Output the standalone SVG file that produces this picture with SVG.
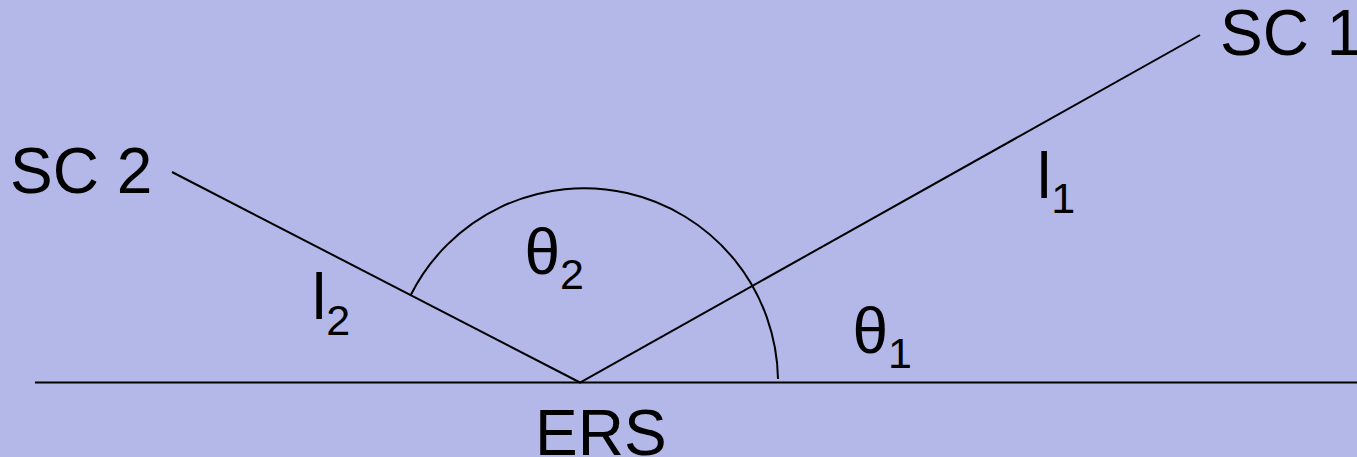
<svg xmlns="http://www.w3.org/2000/svg" width="1357" height="457" viewBox="0 0 1357 457">
<style>
.ln{stroke:#000;stroke-width:2;fill:none}
.t{font-family:"Liberation Sans",Arial,sans-serif;font-size:64px;fill:#000}
.s{font-size:43px}
</style>
<rect width="1357" height="457" fill="#b4b8e9"/>
<g id="connectors">
<line class="ln" x1="35" y1="382.5" x2="1357" y2="382.5"/>
<polyline class="ln" points="172,172 580,382.5 1200,35"/>
<path class="ln" d="M 410.5 295.5 A 194 194 0 0 1 778 379"/>
</g>
<g id="sc1"><text class="t" x="1220" y="55">SC 1</text></g>
<g id="sc2"><text class="t" x="10" y="193">SC 2</text></g>
<g id="ers"><text class="t" x="535" y="455">ERS</text></g>
<g id="theta2"><text class="t" x="524.5" y="274">θ<tspan class="s" dy="15">2</tspan></text></g>
<g id="theta1"><text class="t" x="852.5" y="353">θ<tspan class="s" dy="15">1</tspan></text></g>
<g id="l1"><text class="t" x="1037" y="198">l<tspan class="s" dy="15">1</tspan></text></g>
<g id="l2"><text class="t" x="312" y="319">l<tspan class="s" dy="16">2</tspan></text></g>
</svg>
